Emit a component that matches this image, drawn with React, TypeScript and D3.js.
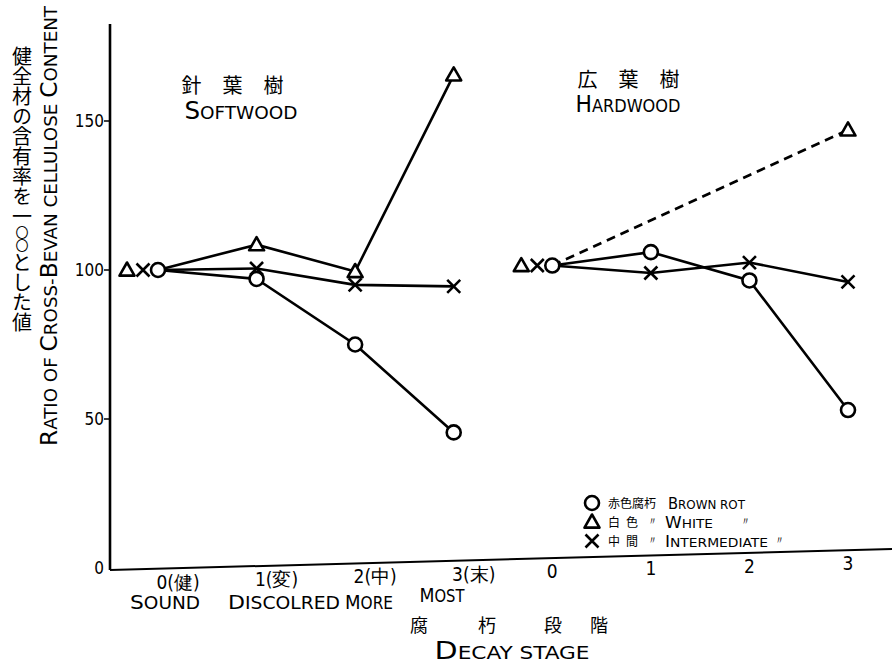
import * as React from 'react';
import * as d3 from 'd3';

// decay stages, softwood then hardwood
const stageKeys = ['S0', 'S1', 'S2', 'S3', 'H0', 'H1', 'H2', 'H3'];
const stageTop = ['0(健)', '1(変)', '2(中)', '3(末)', '0', '1', '2', '3'];
const stageSub = ['Sound', 'Discolred', 'More', 'Most'];

// values (sound wood = 100)
const softBrown = [100, 97, 75, 45.5];
const softWhite = [100, 108.5, 99.5, 165.5];
const softInter = [100, 100.5, 95, 94.5];
const hardBrown = [101.5, 106, 96.5, 53];
const hardWhite = [101.5, null, null, 147];
const hardInter = [101.5, 99, 102.5, 96];

const yTicks = [0, 50, 100, 150];
const legendJa = ['赤色腐朽', '白色', '中間'];
const legendEn = ['Brown rot', 'White', 'Intermediate'];

const W = 892;
const H = 665;
const font = '"DejaVu Sans Condensed", "DejaVu Sans", sans-serif';
const jaFont = '"Noto Sans CJK JP", sans-serif';

const x = d3.scalePoint<string>().domain(stageKeys).range([158, 848]);
const y = d3.scaleLinear().domain([0, 150]).range([568, 121]);
const axisLeftX = 110;
// hand drawn baseline drifts up to the right
const baseY = d3.scaleLinear().domain([axisLeftX, W]).range([570, 549]);

type Shape = 'circle' | 'triangle' | 'cross';

// lettering style: capitalised initials big, the rest as smaller capitals
const Caps = ({
  text, x: tx = 0, y: ty = 0, size, big, anchor = 'start', len, transform,
}: {
  text: string; x?: number; y?: number; size: number; big: number;
  anchor?: string; len?: number; transform?: string;
}) => {
  const parts: { s: string; big: boolean }[] = [];
  text.split(/(\s+|-)/).forEach((w) => {
    if (!w) return;
    const first = w[0];
    if (first !== first.toLowerCase() && /[A-Za-z]/.test(first)) {
      parts.push({ s: first, big: true });
      if (w.length > 1) parts.push({ s: w.slice(1).toUpperCase(), big: false });
    } else {
      parts.push({ s: w.toUpperCase(), big: false });
    }
  });
  return (
    <text
      x={tx}
      y={ty}
      transform={transform}
      textAnchor={anchor}
      fontFamily={font}
      fontSize={size}
      textLength={len}
      lengthAdjust={len ? 'spacingAndGlyphs' : undefined}
      style={{ whiteSpace: 'pre' }}
    >
      {parts.map((p, i) => (
        <tspan key={i} fontSize={p.big ? big : size}>
          {p.s}
        </tspan>
      ))}
    </text>
  );
};

const Marker = ({ cx, cy, shape }: { cx: number; cy: number; shape: Shape }) => {
  if (shape === 'circle') {
    return <circle cx={cx} cy={cy} r={7} fill="#fff" stroke="#000" strokeWidth={2.6} />;
  }
  if (shape === 'triangle') {
    const s = 7.5;
    const p = `M${cx},${cy - s} L${cx + s},${cy + s * 0.75} L${cx - s},${cy + s * 0.75} Z`;
    return <path d={p} fill="#fff" stroke="#000" strokeWidth={2.6} strokeLinejoin="round" />;
  }
  const s = 6.5;
  return (
    <path
      d={`M${cx - s},${cy - s} L${cx + s},${cy + s} M${cx + s},${cy - s} L${cx - s},${cy + s}`}
      stroke="#000"
      strokeWidth={2.6}
    />
  );
};

const series = [
  { keys: stageKeys.slice(0, 4), values: softBrown, shape: 'circle' as Shape, dashed: false },
  { keys: stageKeys.slice(0, 4), values: softWhite, shape: 'triangle' as Shape, dashed: false },
  { keys: stageKeys.slice(0, 4), values: softInter, shape: 'cross' as Shape, dashed: false },
  { keys: stageKeys.slice(4), values: hardBrown, shape: 'circle' as Shape, dashed: false },
  { keys: stageKeys.slice(4), values: hardWhite, shape: 'triangle' as Shape, dashed: true },
  { keys: stageKeys.slice(4), values: hardInter, shape: 'cross' as Shape, dashed: false },
];

// at stage 0 the three symbols sit side by side: triangle, cross, circle
const zeroOffset: Record<Shape, number> = { circle: 0, cross: -15, triangle: -31 };

export default function App() {
  const line = d3.line<[number, number]>();
  const subCenter = [165, 284, 369, 442];

  return (
    <svg width={W} height={H} style={{ display: 'block', position: 'absolute', left: 0, top: 0 }}>
      <rect width={W} height={H} fill="#fff" />

      {/* axes */}
      <line x1={axisLeftX} x2={axisLeftX} y1={24} y2={baseY(axisLeftX)} stroke="#000" strokeWidth={2.6} />
      <line x1={axisLeftX} x2={W} y1={baseY(axisLeftX)} y2={baseY(W)} stroke="#000" strokeWidth={2} />
      {yTicks.map((t) => (
        <g key={t}>
          {t > 0 && <line x1={axisLeftX - 6} x2={axisLeftX} y1={y(t)} y2={y(t)} stroke="#000" strokeWidth={1.5} />}
          <text x={axisLeftX - 6} y={y(t) + 6} textAnchor="end" fontFamily={font} fontSize={17}>
            {t}
          </text>
        </g>
      ))}

      {/* x tick labels */}
      {stageKeys.map((k, i) => (
        <text
          key={k}
          x={x(k)! + (i < 4 ? 20 : 0)}
          y={baseY(x(k)!) + 20}
          textAnchor="middle"
          fontFamily={font}
          fontSize={19}
        >
          {stageTop[i]}
        </text>
      ))}
      {stageSub.map((s, i) => (
        <Caps
          key={s}
          text={s}
          x={subCenter[i]}
          y={i === 3 ? 602 : 609}
          anchor="middle"
          size={17}
          big={20}
          len={[70, 112, 48, 45][i]}
        />
      ))}
      <text x={410} y={632} fontFamily={jaFont} fontSize={18}>
        <tspan x={410}>腐</tspan>
        <tspan x={478}>朽</tspan>
        <tspan x={544}>段</tspan>
        <tspan x={590}>階</tspan>
      </text>
      <Caps text="Decay stage" x={512} y={659} anchor="middle" size={18} big={25} len={155} />

      {/* y axis titles */}
      <Caps
        text="Ratio of Cross-Bevan cellulose Content"
        transform="translate(57,226) rotate(-90)"
        anchor="middle"
        size={18}
        big={23}
        len={440}
      />
      <text x={22} y={46} fontFamily={jaFont} fontSize={20} style={{ writingMode: 'vertical-rl' }}>
        健全材の含有率を一
        <tspan fontSize={13}>〇〇</tspan>
        とした値
      </text>

      {/* group titles */}
      <text x={243} y={93} textAnchor="middle" fontFamily={jaFont} fontSize={20} letterSpacing={21}>
        針葉樹
      </text>
      <Caps text="Softwood" x={241} y={119} anchor="middle" size={18} big={24} len={113} />
      <text x={639} y={87} textAnchor="middle" fontFamily={jaFont} fontSize={20} letterSpacing={21}>
        広葉樹
      </text>
      <Caps text="Hardwood" x={628} y={112} anchor="middle" size={17} big={23} len={105} />

      {/* lines */}
      {series.map((s, si) => {
        const pts = s.keys
          .map((k, i) => [x(k)!, s.values[i]] as [number, number | null])
          .filter((p) => p[1] != null)
          .map((p) => [p[0], y(p[1] as number)] as [number, number]);
        return (
          <path
            key={si}
            d={line(pts) ?? ''}
            fill="none"
            stroke="#000"
            strokeWidth={2.6}
            strokeDasharray={s.dashed ? '9,6' : undefined}
          />
        );
      })}

      {/* markers */}
      {series.map((s, si) =>
        s.keys.map((k, i) => {
          const v = s.values[i];
          if (v == null) return null;
          const cx = x(k)! + (i === 0 ? zeroOffset[s.shape] : 0);
          return <Marker key={`${si}-${i}`} cx={cx} cy={y(v)} shape={s.shape} />;
        })
      )}

      {/* legend */}
      {(['circle', 'triangle', 'cross'] as Shape[]).map((sh, i) => (
        <g key={sh} transform={`translate(0, ${503 + i * 19})`}>
          <Marker cx={592} cy={0} shape={sh} />
          <text x={608} y={5} fontFamily={jaFont} fontSize={12} letterSpacing={i === 0 ? 0 : 6}>
            {legendJa[i]}
          </text>
          {i > 0 && (
            <text x={647} y={3} fontFamily={font} fontSize={11}>
              〃
            </text>
          )}
          <Caps
            text={legendEn[i]}
            x={i === 0 ? 668 : 665}
            y={6}
            size={13}
            big={16}
            len={[77, 48, 103][i]}
          />
          {i > 0 && (
            <text x={i === 1 ? 740 : 774} y={3} fontFamily={font} fontSize={11}>
              〃
            </text>
          )}
        </g>
      ))}
    </svg>
  );
}
